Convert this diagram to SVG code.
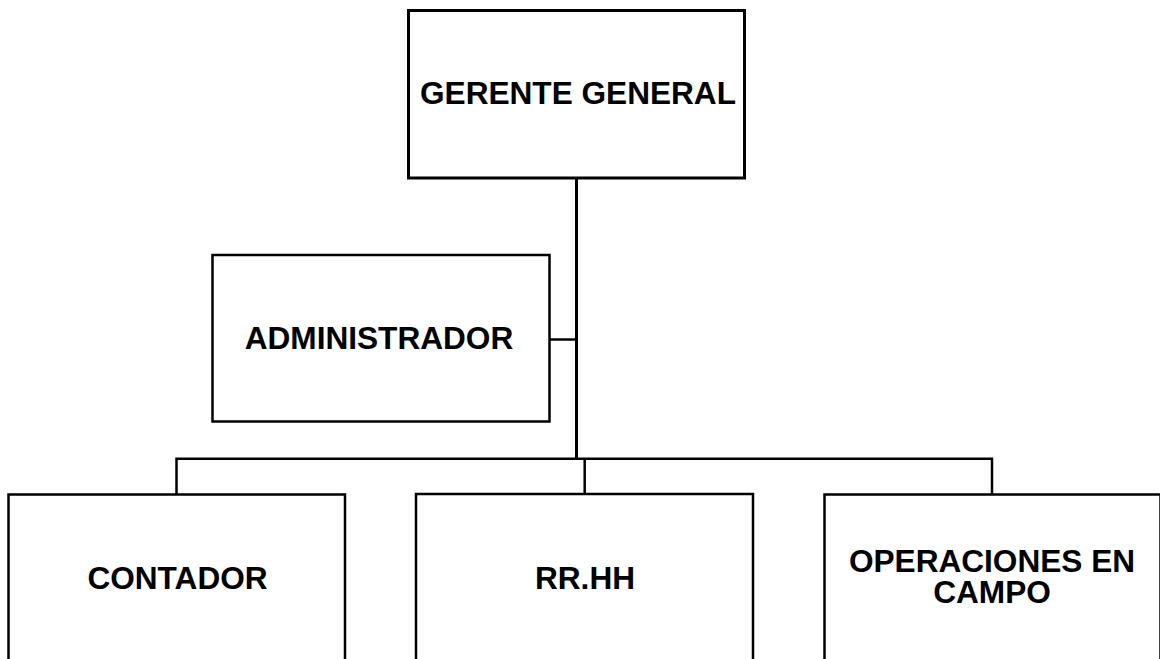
<svg xmlns="http://www.w3.org/2000/svg" width="1160" height="659" viewBox="0 0 1160 659">
<style>
.box{fill:#fff;stroke:#000;stroke-width:2.5}
.lbl{font-family:"Liberation Sans",Arial,sans-serif;font-weight:bold;font-size:31.6px;fill:#000;text-anchor:middle}
.conn{fill:none;stroke:#000;stroke-width:2.5}
</style>
<rect width="1160" height="659" fill="#fff"/>
<g id="connectors">
<path class="conn" d="M576.5 178 V459" style="stroke-width:3"/>
<path class="conn" d="M549.5 339.5 H576.5"/>
<path class="conn" d="M176.5 494.5 V458.8 H992 V494.5"/>
<path class="conn" d="M584.7 458.8 V494.5"/>
</g>
<g id="gerente">
<rect class="box" x="408.5" y="10.5" width="336" height="167.5" style="stroke-width:3"/>
<text class="lbl" x="578" y="104">GERENTE GENERAL</text>
</g>
<g id="administrador">
<rect class="box" x="212.5" y="255" width="337" height="166.5"/>
<text class="lbl" x="379" y="348.5">ADMINISTRADOR</text>
</g>
<g id="contador">
<rect class="box" x="8.5" y="494.5" width="336.5" height="180"/>
<text class="lbl" x="177.5" y="588.5">CONTADOR</text>
</g>
<g id="rrhh">
<rect class="box" x="416" y="494" width="337" height="180"/>
<text class="lbl" x="585" y="588.5">RR.HH</text>
</g>
<g id="operaciones">
<rect class="box" x="824.5" y="494.5" width="336" height="180"/>
<text class="lbl" x="992" y="571.7">OPERACIONES EN</text>
<text class="lbl" x="992" y="603.3">CAMPO</text>
</g>
</svg>
